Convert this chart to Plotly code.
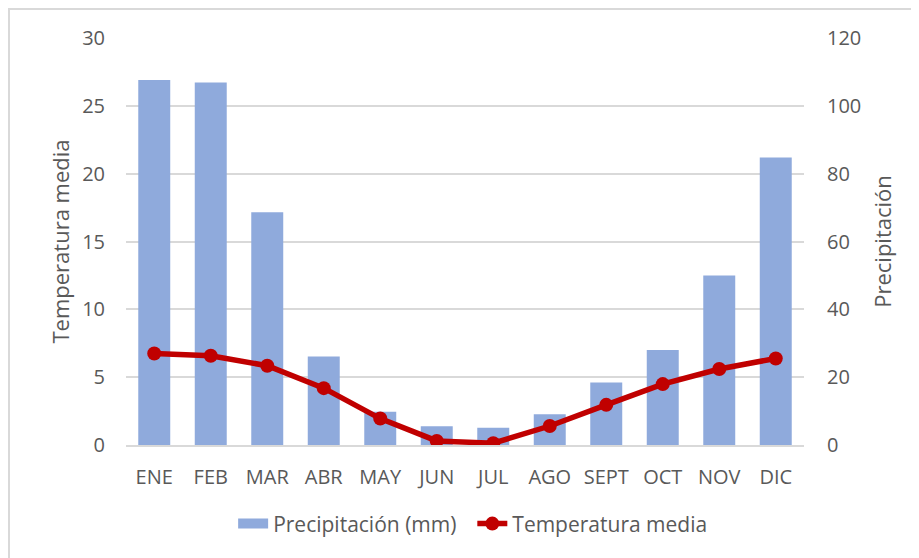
import plotly.graph_objects as go

meses = ["ENE", "FEB", "MAR", "ABR", "MAY", "JUN", "JUL", "AGO", "SEPT", "OCT", "NOV", "DIC"]
precipitacion = [107.6, 106.9, 68.6, 26.1, 9.8, 5.5, 5.1, 9.1, 18.4, 28.0, 50.0, 84.8]
temperatura = [6.75, 6.58, 5.84, 4.19, 1.95, 0.30, 0.13, 1.40, 2.96, 4.49, 5.60, 6.38]

temp_ticks = [0, 5, 10, 15, 20, 25, 30]
prec_ticks = [0, 20, 40, 60, 80, 100, 120]

FONT = "Open Sans"
GREY = "#595959"
BAR = "#8FAADC"
RED = "#C00000"
NBSP = "\u00a0"

fig = go.Figure()
fig.add_trace(go.Bar(
    x=meses, y=precipitacion, name="Precipitación (mm)",
    marker=dict(color=BAR, line=dict(width=0)),
    yaxis="y", showlegend=False,
))
# legend-only entry giving the wide rectangular swatch
fig.add_trace(go.Scatter(
    x=[None], y=[None], name="Precipitación (mm)" + NBSP * 2, mode="lines",
    line=dict(color=BAR, width=14), yaxis="y", hoverinfo="skip",
))
fig.add_trace(go.Scatter(
    x=meses, y=temperatura, name="Temperatura media",
    mode="lines+markers",
    line=dict(color=RED, width=5.5),
    marker=dict(color=RED, size=14),
    yaxis="y2",
))

fig.update_layout(
    width=919, height=558,
    margin=dict(l=118, r=123, t=30, b=121),
    paper_bgcolor="#F2F2F2",
    plot_bgcolor="rgba(0,0,0,0)",
    font=dict(family=FONT, color=GREY, size=20),
    bargap=0.434,
    showlegend=True,
    legend=dict(orientation="h", x=0.512, xanchor="center", y=-0.194, yanchor="middle",
                font=dict(size=21, color=GREY), traceorder="normal",
                bgcolor="rgba(0,0,0,0)"),
    xaxis=dict(
        automargin=False, type="category", range=[-0.5, len(meses) - 0.5],
        showgrid=False, showline=True, linecolor="#D9D9D9", linewidth=1.5,
        ticks="outside", ticklen=13, tickcolor="rgba(0,0,0,0)",
        tickfont=dict(size=20, color=GREY),
    ),
    yaxis=dict(
        automargin=False,
        side="right", range=[0, 120], tickvals=prec_ticks,
        showgrid=True, gridcolor="#D9D9D9", gridwidth=1.5,
        zeroline=False, showline=False,
        ticks="outside", ticklen=18, tickcolor="rgba(0,0,0,0)",
        tickfont=dict(size=20, color=GREY),
        title=dict(text="Precipitación", font=dict(size=22, color=GREY), standoff=15),
    ),
    yaxis2=dict(
        automargin=False,
        side="left", overlaying="y", range=[0, 30], tickvals=temp_ticks,
        showgrid=False, zeroline=False, showline=False,
        ticks="outside", ticklen=16, tickcolor="rgba(0,0,0,0)",
        tickfont=dict(size=20, color=GREY),
        title=dict(text="Temperatura media", font=dict(size=22, color=GREY), standoff=6),
    ),
    shapes=[dict(
        type="rect", xref="paper", yref="paper",
        x0=-0.1726, x1=1.3, y0=-0.4, y1=1.0713,
        fillcolor="white", line=dict(color="#D9D9D9", width=2), layer="below",
    )],
)

fig.write_html("out.html")
